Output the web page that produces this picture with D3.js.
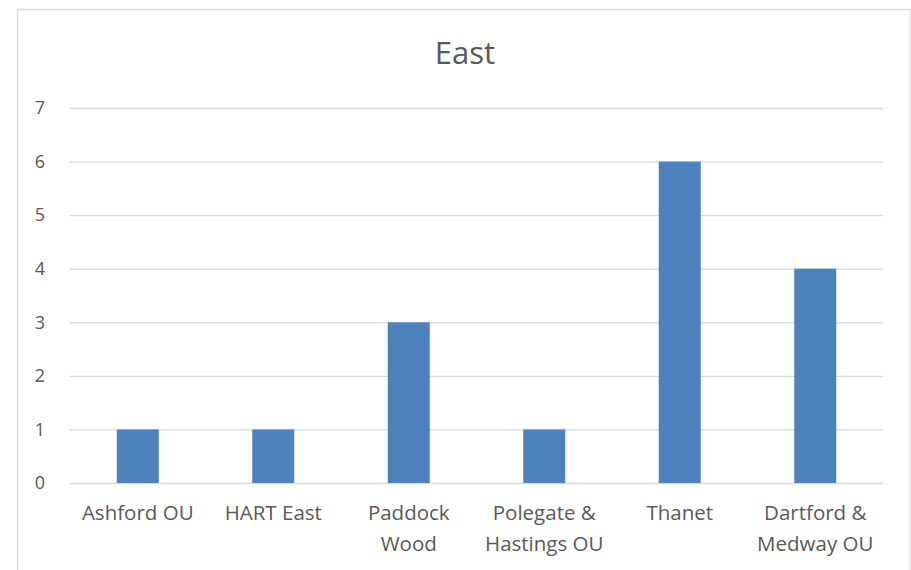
<!DOCTYPE html>
<html>
<head>
<meta charset="utf-8">
<script src="https://cdn.jsdelivr.net/npm/d3@7"></script>
<style>
  html, body { margin: 0; padding: 0; background: #fff; }
  svg { display: block; }
</style>
</head>
<body>
<svg id="chart" width="911" height="570"></svg>
<script>
const categories = ["Ashford OU", "HART East", "Paddock Wood", "Polegate & Hastings OU", "Thanet", "Dartford & Medway OU"];
const categoryLines = [["Ashford OU"], ["HART East"], ["Paddock", "Wood"], ["Polegate &", "Hastings OU"], ["Thanet"], ["Dartford &", "Medway OU"]];
const values = [1, 1, 3, 1, 6, 4];
const yTicks = [0, 1, 2, 3, 4, 5, 6, 7];
const title = "East";

const svg = d3.select("#chart");
const font = "'Open Sans', sans-serif";
const textColor = "#595959";
const gridColor = "#d9d9d9";
const barColor = "#4f81bd";

// chart frame
svg.append("rect")
  .attr("x", 17.5).attr("y", 9.5)
  .attr("width", 893).attr("height", 600)
  .attr("fill", "#fff").attr("stroke", gridColor).attr("stroke-width", 1.5);

const plot = { left: 70, right: 883, top: 108, bottom: 483 };

const x = d3.scaleBand().domain(categories).range([plot.left, plot.right]).paddingInner(0.69).paddingOuter(0.345);
const y = d3.scaleLinear().domain([0, 7]).range([plot.bottom, plot.top]);

// gridlines + y tick labels
const yAxis = d3.axisLeft(y).tickValues(yTicks).tickSize(-(plot.right - plot.left)).tickPadding(24).tickFormat(d3.format("d"));
const gy = svg.append("g").attr("transform", `translate(${plot.left},0)`).call(yAxis);
gy.select(".domain").remove();
gy.selectAll(".tick line").attr("stroke", gridColor).attr("stroke-width", 1.3);
gy.selectAll(".tick text")
  .attr("fill", textColor).attr("font-family", font).attr("font-size", 18)
  .attr("text-anchor", "middle").attr("x", -30);

// bars
svg.append("g").selectAll("rect").data(values).join("rect")
  .attr("x", (d, i) => x(categories[i]))
  .attr("y", d => y(d))
  .attr("width", x.bandwidth())
  .attr("height", d => y(0) - y(d))
  .attr("fill", barColor);

// x category labels
const gx = svg.append("g");
categories.forEach((c, i) => {
  const t = gx.append("text")
    .attr("x", x(c) + x.bandwidth() / 2)
    .attr("y", 520)
    .attr("text-anchor", "middle")
    .attr("fill", textColor).attr("font-family", font).attr("font-size", 20.5);
  categoryLines[i].forEach((line, j) => {
    t.append("tspan").attr("x", x(c) + x.bandwidth() / 2).attr("dy", j === 0 ? 0 : 31).text(line);
  });
});

// title
svg.append("text")
  .attr("x", 465).attr("y", 64)
  .attr("text-anchor", "middle")
  .attr("fill", textColor).attr("font-family", font).attr("font-size", 31)
  .text(title);
</script>
</body>
</html>
